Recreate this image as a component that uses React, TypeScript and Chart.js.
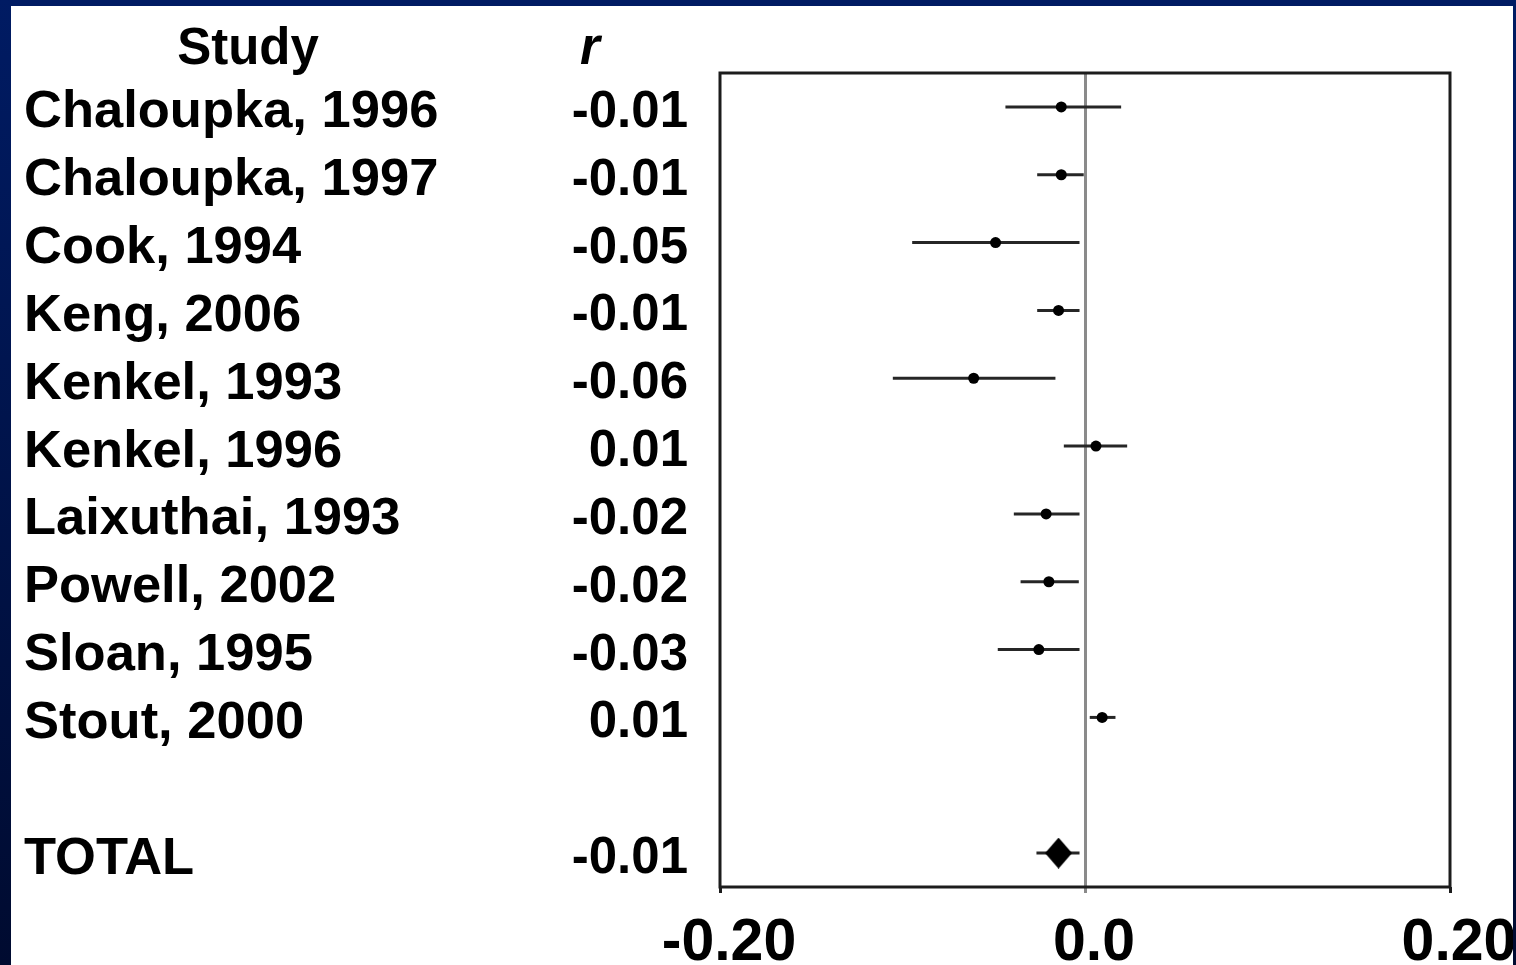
import React, { useEffect, useRef } from 'react';
import { Chart, registerables } from 'chart.js';

Chart.register(...registerables);

// Individual studies (correlation r with 95% confidence interval)
const studies = [
  'Chaloupka, 1996',
  'Chaloupka, 1997',
  'Cook, 1994',
  'Keng, 2006',
  'Kenkel, 1993',
  'Kenkel, 1996',
  'Laixuthai, 1993',
  'Powell, 2002',
  'Sloan, 1995',
  'Stout, 2000',
];
const effects = [-0.013, -0.013, -0.049, -0.0145, -0.061, 0.006, -0.0213, -0.0198, -0.0253, 0.0094];
const ciLow = [-0.0436, -0.0262, -0.0947, -0.0262, -0.1053, -0.0116, -0.039, -0.0353, -0.0478, 0.0026];
const ciHigh = [0.0198, -0.0007, -0.003, -0.003, -0.0162, 0.0231, -0.003, -0.0034, -0.003, 0.0167];

// Pooled estimate
const totalLabel = 'TOTAL';
const totalEffect = -0.0145;
const totalLow = -0.0266;
const totalHigh = -0.003;

// Axis ticks
const xTickValues = [-0.2, 0, 0.2];
const xTickLabels = ['-0.20', '0.0', '0.20'];

const CANVAS_W = 1516;
const CANVAS_H = 1000;
const PLOT_BOTTOM = 887;

const TEXT_FONT = "'Liberation Sans', Arial, Helvetica, sans-serif";

// Diamond marker for the pooled estimate (slightly taller than wide)
function makeDiamond(w: number, h: number): HTMLCanvasElement {
  const c = document.createElement('canvas');
  c.width = w;
  c.height = h;
  const g = c.getContext('2d')!;
  g.fillStyle = '#000';
  g.beginPath();
  g.moveTo(w / 2, 0);
  g.lineTo(w, h / 2);
  g.lineTo(w / 2, h);
  g.lineTo(0, h / 2);
  g.closePath();
  g.fill();
  return c;
}

export default function App() {
  const canvasRef = useRef<HTMLCanvasElement | null>(null);

  useEffect(() => {
    const canvas = canvasRef.current;
    if (!canvas) return;

    const totalRow = studies.length + 1; // one blank row before the pooled result
    const rowValues = [...studies.map((_, i) => i), totalRow];
    const rowNames = [...studies, totalLabel];
    const rowR = [...effects, totalEffect].map((v) => v.toFixed(2));

    const setRowTicks = (scale: any) => {
      scale.ticks = rowValues.map((v) => ({ value: v }));
    };

    const whiskerColor = '#262626';
    const whiskers = studies.map((_, i) => ({
      data: [
        { x: ciLow[i], y: i },
        { x: ciHigh[i], y: i },
      ],
      showLine: true,
      borderColor: whiskerColor,
      borderWidth: 3,
      pointRadius: 0,
      pointHoverRadius: 0,
    }));

    const boxAndHeaders = {
      id: 'boxAndHeaders',
      afterDraw(chart: any) {
        const { ctx, chartArea } = chart;
        ctx.save();
        ctx.strokeStyle = '#1c1c1c';
        ctx.lineWidth = 3;
        ctx.strokeRect(chartArea.left, chartArea.top, chartArea.right - chartArea.left, chartArea.bottom - chartArea.top);

        ctx.fillStyle = '#000';
        ctx.textBaseline = 'alphabetic';
        ctx.textAlign = 'center';
        ctx.font = `bold 51px ${TEXT_FONT}`;
        const nameScale = chart.scales.y;
        const rScale = chart.scales.yR;
        ctx.fillText('Study', nameScale.left + 224, 64);
        ctx.font = `italic bold 51px ${TEXT_FONT}`;
        ctx.fillText('r', rScale.right - 130, 64);
        ctx.restore();
      },
    };

    const chart = new Chart(canvas, {
      type: 'scatter',
      data: {
        datasets: [
          {
            data: effects.map((e, i) => ({ x: e, y: i })),
            backgroundColor: '#000',
            borderWidth: 0,
            pointRadius: 5.5,
            pointHoverRadius: 5.5,
          },
          {
            data: [{ x: totalEffect, y: totalRow }],
            pointStyle: makeDiamond(27, 31),
            pointRadius: 15,
            pointHoverRadius: 15,
          },
          ...whiskers,
          {
            data: [
              { x: totalLow, y: totalRow },
              { x: totalHigh, y: totalRow },
            ],
            showLine: true,
            borderColor: whiskerColor,
            borderWidth: 3,
            pointRadius: 0,
            pointHoverRadius: 0,
          },
        ] as any,
      },
      options: {
        animation: false,
        responsive: true,
        maintainAspectRatio: false,
        layout: { padding: { left: 24, top: 73, right: 66, bottom: 0 } },
        plugins: {
          legend: { display: false },
          tooltip: { enabled: false },
        },
        scales: {
          x: {
            type: 'linear',
            position: 'bottom',
            min: -0.2,
            max: 0.2,
            afterBuildTicks: (scale: any) => {
              scale.ticks = xTickValues.map((v) => ({ value: v }));
            },
            afterFit: (scale: any) => {
              scale.height = CANVAS_H - PLOT_BOTTOM;
              // the last label may run into the frame; keep the plot edge fixed
              scale.paddingRight = 0;
              scale.paddingLeft = 0;
            },
            ticks: {
              callback: (_v: any, i: number) => xTickLabels[i],
              font: { family: TEXT_FONT, size: 59, weight: 'bold' },
              color: '#000',
              padding: 15,
              labelOffset: 9,
              maxRotation: 0,
              autoSkip: false,
            },
            grid: {
              color: (ctx: any) => (ctx.tick && ctx.tick.value === 0 ? '#8a8a8a' : 'rgba(0,0,0,0)'),
              lineWidth: 3,
              drawTicks: true,
              tickLength: 6,
              tickColor: (ctx: any) => (ctx.tick && ctx.tick.value === 0 ? '#8a8a8a' : '#1c1c1c'),
              tickWidth: 3,
            },
            border: { display: false },
          },
          y: {
            type: 'linear',
            position: 'left',
            reverse: true,
            min: -0.5,
            max: 11.5,
            weight: 1,
            afterBuildTicks: setRowTicks,
            afterFit: (scale: any) => {
              scale.width = 480;
            },
            ticks: {
              callback: (_v: any, i: number) => rowNames[i],
              crossAlign: 'far',
              padding: 0,
              labelOffset: 6,
              autoSkip: false,
              color: '#000',
              font: { family: TEXT_FONT, size: 52.5, weight: 'bold' },
            },
            grid: { display: false, drawTicks: false },
            border: { display: false },
          },
          yR: {
            type: 'linear',
            position: 'left',
            reverse: true,
            min: -0.5,
            max: 11.5,
            weight: 0,
            afterBuildTicks: setRowTicks,
            afterFit: (scale: any) => {
              scale.width = 216;
            },
            ticks: {
              callback: (_v: any, i: number) => rowR[i],
              crossAlign: 'near',
              padding: 32,
              labelOffset: 6,
              autoSkip: false,
              color: '#000',
              font: { family: TEXT_FONT, size: 51, weight: 'bold' },
            },
            grid: { display: false, drawTicks: false },
            border: { display: false },
          },
        },
      } as any,
      plugins: [boxAndHeaders],
    });

    return () => chart.destroy();
  }, []);

  const navy = '#001b63';
  return (
    <>
      <div
        style={{
          position: 'fixed',
          left: 0,
          top: 0,
          width: CANVAS_W,
          height: CANVAS_H,
          background: '#fff',
        }}
      >
        <canvas ref={canvasRef} />
      </div>
      <div style={{ position: 'fixed', left: 0, top: 0, width: CANVAS_W, height: 6, background: navy, zIndex: 2 }} />
      <div
        style={{
          position: 'fixed',
          left: 0,
          top: 0,
          width: 11,
          height: 965,
          background: `linear-gradient(${navy}, #000b30)`,
          zIndex: 2,
        }}
      />
      <div
        style={{
          position: 'fixed',
          left: CANVAS_W - 3,
          top: 0,
          width: 3,
          height: 965,
          background: `linear-gradient(${navy}, #000b30)`,
          zIndex: 2,
        }}
      />
    </>
  );
}
